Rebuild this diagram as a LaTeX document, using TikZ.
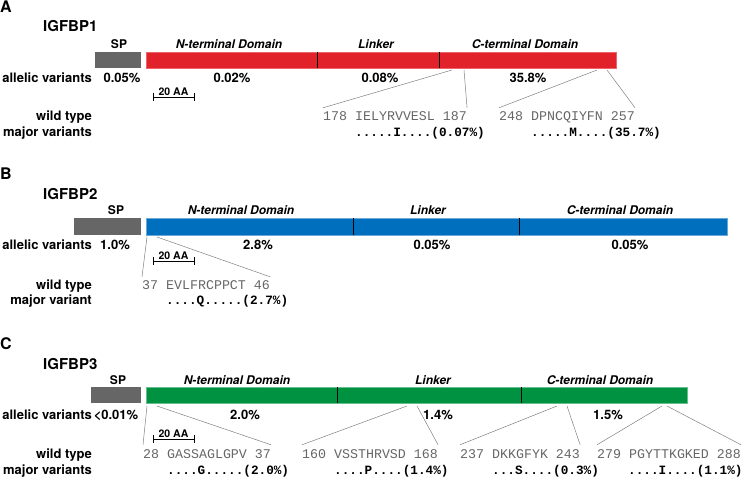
\documentclass[tikz,border=0pt]{standalone}
\usepackage{fontspec}
\setmainfont{TeX Gyre Heros}
\setmonofont{Liberation Mono}
\definecolor{bpone}{RGB}{226,34,42}
\definecolor{bptwo}{RGB}{0,112,190}
\definecolor{bpthree}{RGB}{0,146,64}
\definecolor{spgray}{RGB}{102,102,102}
\begin{document}
\begin{tikzpicture}[x=1pt, y=-1pt,
  panel/.style={font=\bfseries\fontsize{16}{18}\selectfont, anchor=base west, inner sep=0pt},
  prot/.style={font=\bfseries\fontsize{15}{17}\selectfont, anchor=base west, inner sep=0pt},
  dom/.style={font=\bfseries\itshape\fontsize{12}{14}\selectfont, anchor=base, inner sep=0pt},
  splab/.style={font=\bfseries\fontsize{12}{14}\selectfont, anchor=base, inner sep=0pt},
  rowlab/.style={font=\bfseries\fontsize{13}{15}\selectfont, anchor=base east, inner sep=0pt},
  pct/.style={font=\bfseries\fontsize{13}{15}\selectfont, anchor=base, inner sep=0pt},
  aa/.style={font=\bfseries\fontsize{10.5}{12}\selectfont, anchor=base, inner sep=0pt},
  wt/.style={font=\ttfamily\fontsize{13.3}{15}\selectfont, text=black!60, anchor=base west, inner xsep=0pt, inner ysep=4pt, text height=9pt},
  mut/.style={font=\ttfamily\bfseries\fontsize{12.7}{15}\selectfont, anchor=base west, inner sep=0pt},
  zoomline/.style={draw=black!50, line width=0.5pt},
  divider/.style={line width=0.9pt}]
  \useasboundingbox (0,0) rectangle (745,478);

  % A: IGFBP1
  \node[panel] (pa) at (0,13) {A};
  \node[prot] (pa name) at (43,32) {IGFBP1};
  \fill[spgray] (95,52) rectangle (141,68);
  \filldraw[fill=bpone, draw=bpone!70!white, line width=0.5pt] (146,52) rectangle (616,68);
  \draw[divider] (317,52) -- (317,68) (439,52) -- (439,68);
  \node[splab] (pa sp) at (119,49) {SP};
  \node[dom] (pa nt) at (229,49) {N-terminal Domain};
  \node[dom] (pa lk) at (376,49) {Linker};
  \node[dom] (pa ct) at (525,49) {C-terminal Domain};
  \node[rowlab] (pa av) at (92,83) {allelic variants};
  \node[pct] at (122,83) {0.05\%};
  \node[pct] at (232,83) {0.02\%};
  \node[pct] at (380,83) {0.08\%};
  \node[pct] at (528,83) {35.8\%};
  \draw (153,93) -- (153,101) (153,97) -- (194,97) (194,93) -- (194,101);
  \node[aa] (pa aa) at (173.5,95.5) {20 AA};
  \node[rowlab] (pa wt) at (92,121) {wild type};
  \node[rowlab] (pa mv) at (92,137) {major variants};
  \node[wt] (sa1) at (323,121) {178 IELYRVVESL 187};
  \node[wt] (sa2) at (499,121) {248 DPNCQIYFN 257};
  \node[mut] (ma1) at (355,137) {.....I....(0.07\%)};
  \node[mut] (ma2) at (531,137) {.....M....(35.7\%)};
  \coordinate (ca1) at (452,70); \coordinate (ca2) at (464,70);
  \coordinate (ca3) at (597,70); \coordinate (ca4) at (607,70);
  \draw[zoomline] (ca1) -- (sa1.north west) (ca2) -- (sa1.north east);
  \draw[zoomline] (ca3) -- (sa2.north west) (ca4) -- (sa2.north east);

  % B: IGFBP2
  \node[panel] (pb) at (0,180) {B};
  \node[prot] (pb name) at (43,200) {IGFBP2};
  \fill[spgray] (74,218) rectangle (141,235);
  \filldraw[fill=bptwo, draw=bptwo!60!white, line width=0.5pt] (146,218) rectangle (727,235);
  \draw[divider] (353,218) -- (353,235) (519,218) -- (519,235);
  \node[splab] (pb sp) at (116,215) {SP};
  \node[dom] (pb nt) at (241,215) {N-terminal Domain};
  \node[dom] (pb lk) at (428,215) {Linker};
  \node[dom] (pb ct) at (620,215) {C-terminal Domain};
  \node[rowlab] (pb av) at (92,250) {allelic variants};
  \node[pct] at (115,250) {1.0\%};
  \node[pct] at (258,250) {2.8\%};
  \node[pct] at (432,250) {0.05\%};
  \node[pct] at (630,250) {0.05\%};
  \draw (153,257) -- (153,265) (153,261) -- (194,261) (194,257) -- (194,265);
  \node[aa] (pb aa) at (173.5,259.5) {20 AA};
  \node[rowlab] (pb wt) at (92,290) {wild type};
  \node[rowlab] (pb mv) at (92,305) {major variant};
  \node[wt] (sb1) at (142,290) {37 EVLFRCPPCT 46};
  \node[mut] (mb1) at (166,305) {....Q.....(2.7\%)};
  \coordinate (cb1) at (147,237); \coordinate (cb2) at (157,237);
  \draw[zoomline] (cb1) -- (sb1.north west) (cb2) -- (sb1.north east);

  % C: IGFBP3
  \node[panel] (pc) at (0,350) {C};
  \node[prot] (pc name) at (43,370) {IGFBP3};
  \fill[spgray] (91,387) rectangle (141,403);
  \filldraw[fill=bpthree, draw=bpthree!60!white, line width=0.5pt] (146,387) rectangle (687,403);
  \draw[divider] (337,387) -- (337,403) (521,387) -- (521,403);
  \node[splab] (pc sp) at (118,385) {SP};
  \node[dom] (pc nt) at (237,385) {N-terminal Domain};
  \node[dom] (pc lk) at (433,385) {Linker};
  \node[dom] (pc ct) at (600,385) {C-terminal Domain};
  \node[rowlab] (pc av) at (92,420) {allelic variants};
  \node[pct] at (116,420) {<0.01\%};
  \node[pct] at (245,420) {2.0\%};
  \node[pct] at (438,420) {1.4\%};
  \node[pct] at (608,420) {1.5\%};
  \draw (153,435) -- (153,443) (153,439) -- (194,439) (194,435) -- (194,443);
  \node[aa] (pc aa) at (173.5,437.5) {20 AA};
  \node[rowlab] (pc wt) at (92,458) {wild type};
  \node[rowlab] (pc mv) at (92,475) {major variants};
  \node[wt] (sc1) at (143,458) {28 GASSAGLGPV 37};
  \node[wt] (sc2) at (302,458) {160 VSSTHRVSD 168};
  \node[wt] (sc3) at (460,458) {237 DKKGFYK 243};
  \node[wt] (sc4) at (597,458) {279 PGYTTKGKED 288};
  \node[mut] (mc1) at (167,475) {....G.....(2.0\%)};
  \node[mut] (mc2) at (334,475) {....P....(1.4\%)};
  \node[mut] (mc3) at (492,475) {...S....(0.3\%)};
  \node[mut] (mc4) at (628,475) {....I....(1.1\%)};
  \coordinate (cc1) at (147,406); \coordinate (cc2) at (157,406);
  \coordinate (cc3) at (407,406); \coordinate (cc4) at (417,406);
  \coordinate (cc5) at (557,406); \coordinate (cc6) at (567,406);
  \coordinate (cc7) at (662,406); \coordinate (cc8) at (667,406);
  \draw[zoomline] (cc1) -- (sc1.north west) (cc2) -- (sc1.north east);
  \draw[zoomline] (cc3) -- (sc2.north west) (cc4) -- (sc2.north east);
  \draw[zoomline] (cc5) -- (sc3.north west) (cc6) -- (sc3.north east);
  \draw[zoomline] (cc7) -- (sc4.north west) (cc8) -- (sc4.north east);
\end{tikzpicture}
\end{document}
